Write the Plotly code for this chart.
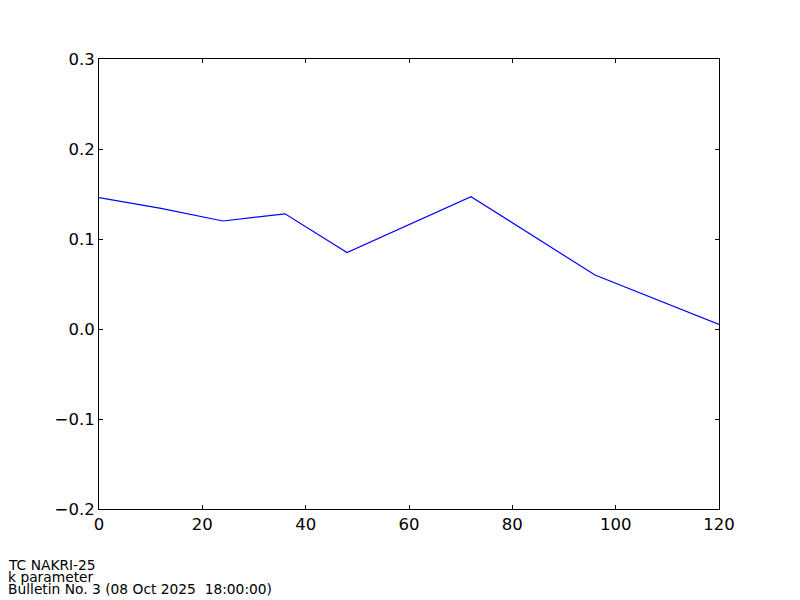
import plotly.graph_objects as go

# forecast hour vs k parameter
hours = [0, 12, 24, 36, 48, 72, 96, 120]
k_param = [0.146, 0.134, 0.120, 0.128, 0.085, 0.147, 0.060, 0.005]

footer_lines = [
    "TC NAKRI-25",
    "k parameter",
    "Bulletin No. 3 (08 Oct 2025  18:00:00)",
]

fig = go.Figure()
fig.add_trace(go.Scatter(
    x=hours, y=k_param, mode="lines",
    line=dict(color="#0000ff", width=1.2),
    hoverinfo="x+y",
))

axis_common = dict(
    showgrid=False, zeroline=False,
    showline=True, linecolor="black", linewidth=1, mirror="ticks",
    ticks="inside", ticklen=4, tickcolor="black", tickwidth=1,
    tickfont=dict(family="DejaVu Sans", size=16.5, color="black"),
)
fig.update_xaxes(range=[0, 120], dtick=20, tick0=0, **axis_common)
fig.update_yaxes(range=[-0.2, 0.3], dtick=0.1, tick0=-0.2, tickformat=".1f", **axis_common)

# page body adds an 8px offset, so margins are shifted by that amount
off = 8
left, top = 99 - off, 59 - off
plot_w, plot_h = 620, 450
bottom = top + plot_h
for i, line in enumerate(footer_lines):
    fig.add_annotation(
        text=line, xref="paper", yref="paper",
        x=(6 - off - left) / plot_w,
        y=(bottom - (565 - off + 12 * i)) / plot_h,
        xanchor="left", yanchor="middle", showarrow=False,
        font=dict(family="DejaVu Sans", size=13.8, color="black"),
    )

fig.update_layout(
    width=800, height=600,
    margin=dict(l=left, r=800 - left - plot_w, t=top, b=600 - top - plot_h),
    plot_bgcolor="white", paper_bgcolor="white",
    showlegend=False,
)

fig.write_html("out.html")
